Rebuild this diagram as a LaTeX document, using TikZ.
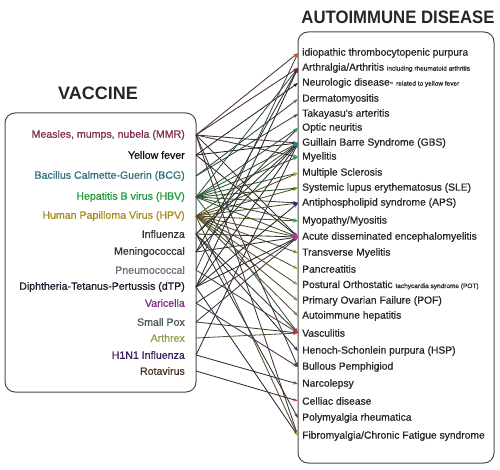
\documentclass[tikz,border=0pt]{standalone}
\usepackage{fontspec}
\setmainfont{Liberation Sans}
\newfontfamily\medfont{Liberation Sans}[FakeBold=0.7]
\usetikzlibrary{arrows.meta}

% vaccine colours
\definecolor{cmmr}{HTML}{7B2D4F}
\definecolor{cyf}{HTML}{111111}
\definecolor{cbcg}{HTML}{2F6E7A}
\definecolor{chbv}{HTML}{1F9A3A}
\definecolor{chpv}{HTML}{A68A1A}
\definecolor{cflu}{HTML}{333333}
\definecolor{cmen}{HTML}{2F3A2A}
\definecolor{cpneu}{HTML}{6A7075}
\definecolor{cdtp}{HTML}{1A1A2A}
\definecolor{cvar}{HTML}{7A2A80}
\definecolor{cpox}{HTML}{4A5A50}
\definecolor{carx}{HTML}{9A9A50}
\definecolor{chone}{HTML}{3A2060}
\definecolor{crota}{HTML}{4A3020}
% disease arrow tips
\definecolor{citp}{HTML}{C8602A}
\definecolor{carth}{HTML}{8B2020}
\definecolor{cneuro}{HTML}{202020}
\definecolor{cderm}{HTML}{5A80A8}
\definecolor{ctaka}{HTML}{3A4A5A}
\definecolor{coptic}{HTML}{2E9E50}
\definecolor{cgbs}{HTML}{1E8C6E}
\definecolor{cmyel}{HTML}{2FA85A}
\definecolor{cms}{HTML}{9AB030}
\definecolor{csle}{HTML}{6A9A20}
\definecolor{caps}{HTML}{2A2A80}
\definecolor{cmyo}{HTML}{3FA070}
\definecolor{cadem}{HTML}{C0308A}
\definecolor{ctm}{HTML}{8A8A40}
\definecolor{cpanc}{HTML}{B0A030}
\definecolor{cpot}{HTML}{A8A040}
\definecolor{cpof}{HTML}{8A9050}
\definecolor{caih}{HTML}{7A8A40}
\definecolor{cvasc}{HTML}{C83040}
\definecolor{chsp}{HTML}{303070}
\definecolor{cbp}{HTML}{404850}
\definecolor{cnarco}{HTML}{7040A0}
\definecolor{cceliac}{HTML}{C04848}
\definecolor{cpmr}{HTML}{404040}
\definecolor{cfibro}{HTML}{A0B830}

\newcommand{\smalltxt}[1]{{\fontsize{6.5}{7}\selectfont #1}}

\tikzset{
  panel/.style={draw=black!70, line width=1pt, rounded corners=10pt},
  heading/.style={font=\bfseries\fontsize{18}{18}\selectfont, inner sep=0pt, text=black!85},
  vac/.style={anchor=east, inner sep=0pt, font=\medfont\fontsize{10.6}{11}\selectfont},
  dis/.style={anchor=west, inner sep=0pt, text=black!85, font=\medfont\fontsize{10.3}{11}\selectfont},
  link/.style 2 args={line width=0.85pt, draw=#1!40!black!88,
    -{Stealth[length=5pt,width=3.5pt,color=#2]}},
}

\begin{document}
\begin{tikzpicture}[x=1pt, y=-1pt]
  \useasboundingbox (0,0) rectangle (500,470);

  % Panels
  \draw[panel] (5,113) rectangle (196,392);
  \draw[panel] (298,32) rectangle (494,463);
  \coordinate (le) at (196,0);
  \coordinate (re) at (298,0);

  \node[heading] (vtitle) at (98,93) {VACCINE};
  \node[heading] (dtitle) at (398,17) {\scalebox{0.93}[1]{AUTOIMMUNE DISEASE}};

  % Vaccines
  \node[vac, text=cmmr]  (mmr)  at (185,135) {Measles, mumps, nubela (MMR)};
  \node[vac, text=cyf]   (yf)   at (185,155) {Yellow fever};
  \node[vac, text=cbcg]  (bcg)  at (185,176) {Bacillus Calmette-Guerin (BCG)};
  \node[vac, text=chbv]  (hbv)  at (185,197) {Hepatitis B virus (HBV)};
  \node[vac, text=chpv]  (hpv)  at (185,216) {Human Papilloma Virus (HPV)};
  \node[vac, text=cflu]  (flu)  at (185,234) {Influenza};
  \node[vac, text=cmen]  (men)  at (185,252) {Meningococcal};
  \node[vac, text=cpneu] (pneu) at (185,270) {Pneumococcal};
  \node[vac, text=cdtp]  (dtp)  at (185,287) {Diphtheria-Tetanus-Pertussis (dTP)};
  \node[vac, text=cvar]  (var)  at (185,303) {Varicella};
  \node[vac, text=cpox]  (pox)  at (185,322) {Small Pox};
  \node[vac, text=carx]  (arx)  at (185,338) {Arthrex};
  \node[vac, text=chone] (hone) at (185,355) {H1N1 Influenza};
  \node[vac, text=crota] (rota) at (185,371) {Rotavirus};

  % Diseases
  \node[dis] (itp)    at (302,53)  {idiopathic thrombocytopenic purpura};
  \node[dis] (arth)   at (302,68)  {Arthralgia/Arthritis \smalltxt{including rheumatoid arthritis}};
  \node[dis] (neuro)  at (302,83)  {Neurologic disease- \smalltxt{related to yellow fever}};
  \node[dis] (derm)   at (302,99)  {Dermatomyositis};
  \node[dis] (taka)   at (302,114) {Takayasu's arteritis};
  \node[dis] (optic)  at (302,128) {Optic neuritis};
  \node[dis] (gbs)    at (302,143) {Guillain Barre Syndrome (GBS)};
  \node[dis] (myel)   at (302,157) {Myelitis};
  \node[dis] (ms)     at (302,173) {Multiple Sclerosis};
  \node[dis] (sle)    at (302,188) {Systemic lupus erythematosus (SLE)};
  \node[dis] (aps)    at (302,203) {Antiphospholipid syndrome (APS)};
  \node[dis] (myo)    at (302,221) {Myopathy/Myositis};
  \node[dis] (adem)   at (302,237) {Acute disseminated encephalomyelitis};
  \node[dis] (tm)     at (302,253) {Transverse Myelitis};
  \node[dis] (panc)   at (302,269) {Pancreatitis};
  \node[dis] (pot)    at (302,285) {Postural Orthostatic \smalltxt{tachycardia syndrome (POT)}};
  \node[dis] (pof)    at (302,301) {Primary Ovarian Failure (POF)};
  \node[dis] (aih)    at (302,316) {Autoimmune hepatitis};
  \node[dis] (vasc)   at (302,333) {Vasculitis};
  \node[dis] (hsp)    at (302,351) {Henoch-Schonlein purpura (HSP)};
  \node[dis] (bp)     at (302,367) {Bullous Pemphigiod};
  \node[dis] (narco)  at (302,384) {Narcolepsy};
  \node[dis] (celiac) at (302,401) {Celliac disease};
  \node[dis] (pmr)    at (302,418) {Polymyalgia rheumatica};
  \node[dis] (fibro)  at (302,436) {Fibromyalgia/Chronic Fatigue syndrome};

  % Links
  \foreach \s/\t in {mmr/itp, mmr/arth, mmr/gbs, mmr/myel, mmr/adem, mmr/bp, mmr/fibro,
      yf/neuro, yf/gbs, yf/adem,
      bcg/derm, bcg/taka,
      hbv/arth, hbv/optic, hbv/gbs, hbv/myel, hbv/ms, hbv/sle, hbv/aps, hbv/myo, hbv/adem, hbv/vasc,
      hpv/gbs, hpv/ms, hpv/sle, hpv/aps, hpv/myo, hpv/adem, hpv/tm, hpv/panc, hpv/pot, hpv/pof, hpv/aih, hpv/fibro,
      flu/optic, flu/gbs, flu/adem, flu/vasc, flu/hsp, flu/pmr,
      men/arth, men/gbs, men/adem,
      pneu/itp, pneu/vasc,
      dtp/arth, dtp/gbs, dtp/aps, dtp/adem, dtp/fibro,
      var/adem, var/bp,
      pox/adem, pox/vasc,
      arx/vasc,
      hone/gbs, hone/narco,
      rota/celiac}
    \draw[link={c\s}{c\t}] (\s.east -| le) -- (\t.west -| re);
\end{tikzpicture}
\end{document}
